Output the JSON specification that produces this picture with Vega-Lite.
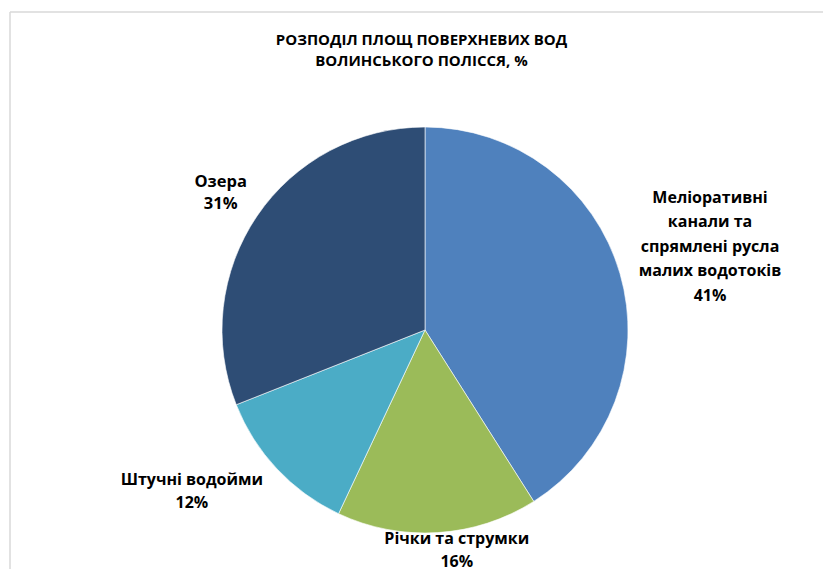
{
  "$schema": "https://vega.github.io/schema/vega-lite/v6.json",
  "width": 813,
  "height": 557,
  "autosize": "none",
  "padding": {"left": 10, "top": 12, "right": 0, "bottom": 0},
  "background": "white",
  "view": {"stroke": "#d9d9d9", "strokeWidth": 1.5, "strokeDash": [813, 1370, 557, 0]},
  "title": {
    "text": ["РОЗПОДІЛ ПЛОЩ ПОВЕРХНЕВИХ ВОД", "ВОЛИНСЬКОГО ПОЛІССЯ, %"],
    "anchor": "middle",
    "frame": "group",
    "offset": -57,
    "dx": 5,
    "font": "Open Sans",
    "fontSize": 15,
    "fontWeight": "bold",
    "lineHeight": 21,
    "color": "#000000"
  },
  "data": {
    "values": [
      {"category": "Меліоративні\nканали та\nспрямлені русла\nмалих водотоків", "value": 41, "order": 1},
      {"category": "Річки та струмки", "value": 16, "order": 2},
      {"category": "Штучні водойми", "value": 12, "order": 3},
      {"category": "Озера", "value": 31, "order": 4}
    ]
  },
  "transform": [
    {"calculate": "datum.category + '\\n' + datum.value + '%'", "as": "label"}
  ],
  "encoding": {
    "theta": {"field": "value", "type": "quantitative", "stack": true},
    "order": {"field": "order", "type": "quantitative"},
    "color": {
      "field": "order",
      "type": "nominal",
      "scale": {"domain": [1, 2, 3, 4], "range": ["#4F81BD", "#9BBB59", "#4BACC6", "#2E4D75"]},
      "legend": null
    }
  },
  "layer": [
    {"mark": {"type": "arc", "x": {"expr": "width/2 + 8.5"}, "y": {"expr": "height/2 + 39.5"}, "outerRadius": 203, "stroke": "#ffffff", "strokeWidth": 0.6}},
    {
      "mark": {"type": "text", "x": {"expr": "width/2 + 8.5"}, "y": {"expr": "height/2 + 39.5"}, "radius": 302, "dx": -5, "dy": -48, "font": "Open Sans", "fontSize": 16, "fontWeight": "bold", "lineBreak": "\n", "lineHeight": 24.5, "align": "center", "baseline": "middle", "color": "#000000"},
      "encoding": {"text": {"condition": {"test": "datum.order == 1", "field": "label"}, "value": ""}, "color": {"value": "#000000"}}
    },
    {
      "mark": {"type": "text", "x": {"expr": "width/2 + 8.5"}, "y": {"expr": "height/2 + 39.5"}, "radius": 220, "dx": 18, "dy": -11, "font": "Open Sans", "fontSize": 16, "fontWeight": "bold", "lineBreak": "\n", "lineHeight": 23, "align": "center", "baseline": "middle", "color": "#000000"},
      "encoding": {"text": {"condition": {"test": "datum.order == 2", "field": "label"}, "value": ""}, "color": {"value": "#000000"}}
    },
    {
      "mark": {"type": "text", "x": {"expr": "width/2 + 8.5"}, "y": {"expr": "height/2 + 39.5"}, "radius": 280, "dx": -29, "dy": -42, "font": "Open Sans", "fontSize": 16, "fontWeight": "bold", "lineBreak": "\n", "lineHeight": 23, "align": "center", "baseline": "middle", "color": "#000000"},
      "encoding": {"text": {"condition": {"test": "datum.order == 3", "field": "label"}, "value": ""}, "color": {"value": "#000000"}}
    },
    {
      "mark": {"type": "text", "x": {"expr": "width/2 + 8.5"}, "y": {"expr": "height/2 + 39.5"}, "radius": 247, "dy": -9, "font": "Open Sans", "fontSize": 16.5, "fontWeight": "bold", "lineBreak": "\n", "lineHeight": 22, "align": "center", "baseline": "middle", "color": "#000000"},
      "encoding": {"text": {"condition": {"test": "datum.order == 4", "field": "label"}, "value": ""}, "color": {"value": "#000000"}}
    }
  ]
}
